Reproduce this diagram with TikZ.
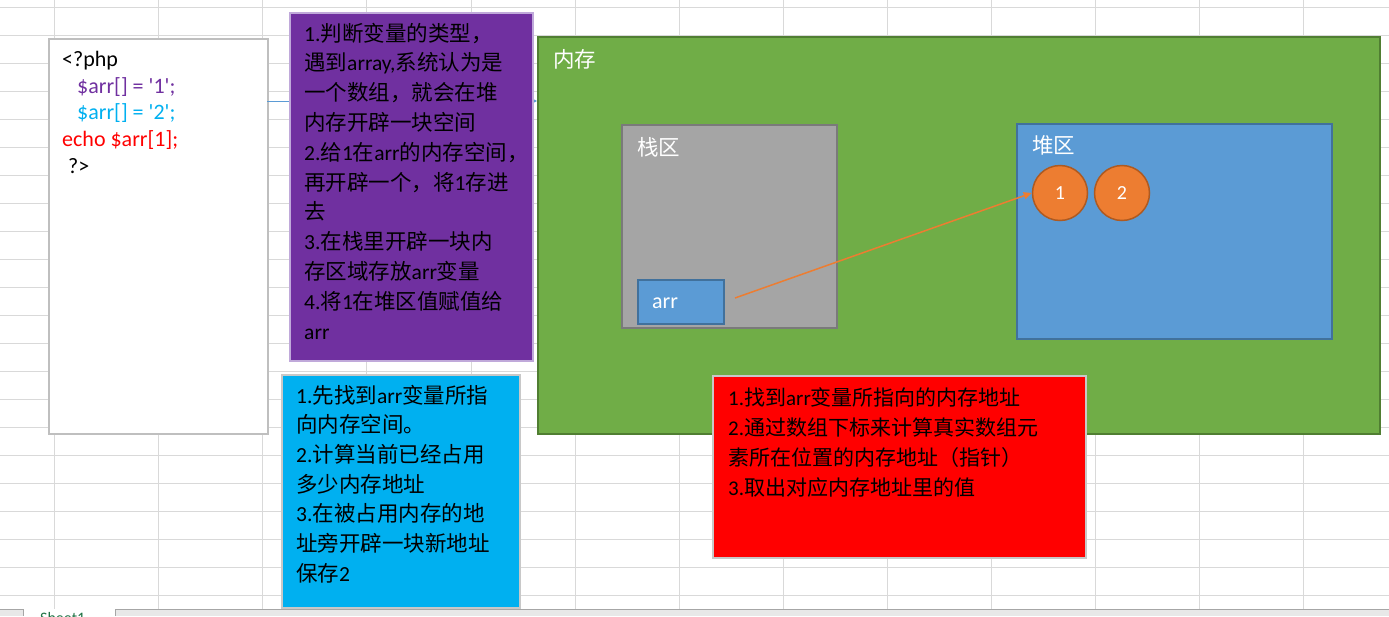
\documentclass[tikz,border=0pt]{standalone}
\usepackage{fontspec}
\setmainfont{Carlito}
\newfontfamily\cjk{Noto Sans CJK SC}
\usetikzlibrary{arrows.meta}
\newcommand\C[1]{{\cjk #1}}
\newcommand\q{\textquotesingle}
\definecolor{gridc}{HTML}{D9D9D9}
\definecolor{memfill}{HTML}{70AD47}
\definecolor{memline}{HTML}{507E32}
\definecolor{stkfill}{HTML}{A5A5A5}
\definecolor{stkline}{HTML}{7A7A7A}
\definecolor{bluefill}{HTML}{5B9BD5}
\definecolor{blueline}{HTML}{41719C}
\definecolor{orfill}{HTML}{ED7D31}
\definecolor{orline}{HTML}{AE5A21}
\definecolor{purfill}{HTML}{7030A0}
\definecolor{purline}{HTML}{C0A9DA}
\definecolor{cyfill}{HTML}{00B0F0}
\definecolor{cpurple}{HTML}{7030A0}
\definecolor{ccyan}{HTML}{00B0F0}
\definecolor{softline}{HTML}{C8C8C8}
\definecolor{tabgreen}{HTML}{217346}
\tikzset{
  box/.style={rectangle, anchor=north west, inner sep=0pt, line width=1.5pt},
  txt/.style={anchor=base west, inner sep=0pt},
  lbl/.style={anchor=base west, inner sep=0pt, text=white, font=\fontsize{21.5}{26}\selectfont\cjk},
  ball/.style={circle, inner sep=0pt, minimum size=55pt, fill=orfill, draw=orline, line width=1.5pt, text=white, font=\fontsize{20}{24}\selectfont},
  gridline/.style={gridc, line width=1pt}
}
\begin{document}
\begin{tikzpicture}[x=1pt,y=-1pt]
\useasboundingbox (0,0) rectangle (1389,616);
\fill[white] (0,0) rectangle (1389,616);
% spreadsheet grid
\foreach \gx in {54,158,262,366,471,575,679,783,887,991,1095,1199,1303}
  \draw[gridline] (\gx,0) -- (\gx,609);
\foreach \k in {0,...,21}
  \draw[gridline] (0,7+28*\k) -- (1389,7+28*\k);
% sheet tab bar
\fill[black!9] (0,609) rectangle (1389,616);
\draw[black!35, line width=1pt] (0,609.5) -- (1389,609.5);
\fill[white] (23,609) rectangle (115,616);
\draw[black!35, line width=1pt] (23,609) -- (23,616) (115,609) -- (115,616);
\node[anchor=base west, inner sep=0pt, text=tabgreen, font=\fontsize{16}{18}\selectfont] (tab) at (40,623) {Sheet1};

% code box
\node[box, draw=black!25, fill=white, minimum width=219pt, minimum height=395pt] (code) at (48,38) {};
\node[txt] (codetext) at (62,66.5) {\parbox[t]{200pt}{\fontsize{22}{26.7}\selectfont
<?php\\
\hspace*{15pt}\textcolor{cpurple}{\$arr[] = \q1\q;}\\
\hspace*{15pt}\textcolor{ccyan}{\$arr[] = \q2\q;}\\
\textcolor{red}{echo \$arr[1];}\\
\hspace*{6pt}?>}};

% memory area
\node[box, draw=memline, fill=memfill, line width=2pt, minimum width=842pt, minimum height=397pt] (mem) at (537,36) {};
\node[lbl] (memlbl) at (553,67) {内存};

% connector code -> memory (runs under the purple note)
\coordinate (codeport) at (267,101);
\draw[bluefill, line width=1pt, -{Triangle[length=6pt,width=6pt]}] (codeport) -- (mem.west |- codeport);

% purple note
\node[box, draw=purline, fill=purfill, minimum width=243pt, minimum height=348pt] (pnote) at (289,12) {};
\node[txt] (ptext) at (304,41) {\parbox[t]{240pt}{\fontsize{21.5}{29.8}\selectfont
1.\C{判断变量的类型，}\\
\C{遇到}array,\C{系统认为是}\\
\C{一个数组，就会在堆}\\
\C{内存开辟一块空间}\\
2.\C{给}1\C{在}arr\C{的内存空间，}\\
\C{再开辟一个，将}1\C{存进}\\
\C{去}\\
3.\C{在栈里开辟一块内}\\
\C{存区域存放}arr\C{变量}\\
4.\C{将}1\C{在堆区值赋值给}\\
arr}};

% stack area
\node[box, draw=stkline, fill=stkfill, minimum width=215pt, minimum height=203pt] (stack) at (621,124) {};
\node[lbl] (stacklbl) at (637,155) {栈区};
\node[box, draw=blueline, fill=bluefill, minimum width=86pt, minimum height=44pt] (arrbox) at (637,279) {};
\node[anchor=base west, inner sep=0pt, text=white, font=\fontsize{22}{26}\selectfont] (arrlbl) at (652,308) {arr};

% heap area
\node[box, draw=blueline, fill=bluefill, minimum width=315pt, minimum height=215pt] (heap) at (1016,123) {};
\node[lbl] (heaplbl) at (1032,153) {堆区};
\node[ball] (c1) at (1060,193) {1};
\node[ball] (c2) at (1122,193) {2};

% pointer arrow
\coordinate (arrtail) at (735,298);
\draw[orfill, line width=1.5pt, -{Triangle[length=8pt,width=7pt]}] (arrtail) -- (c1.west);

% cyan note
\node[box, draw=softline, fill=cyfill, minimum width=238pt, minimum height=233pt] (cnote) at (281,374) {};
\node[txt] (ctext) at (296,403) {\parbox[t]{230pt}{\fontsize{21.5}{29.7}\selectfont
1.\C{先找到}arr\C{变量所指}\\
\C{向内存空间。}\\
2.\C{计算当前已经占用}\\
\C{多少内存地址}\\
3.\C{在被占用内存的地}\\
\C{址旁开辟一块新地址}\\
\C{保存}2}};

% red note
\node[box, draw=softline, fill=red, minimum width=373pt, minimum height=182pt] (rnote) at (712,375) {};
\node[txt] (rtext) at (728,405) {\parbox[t]{360pt}{\fontsize{21}{30}\selectfont
1.\C{找到}arr\C{变量所指向的内存地址}\\
2.\C{通过数组下标来计算真实数组元}\\
\C{素所在位置的内存地址（指针）}\\
3.\C{取出对应内存地址里的值}}};
\end{tikzpicture}
\end{document}
